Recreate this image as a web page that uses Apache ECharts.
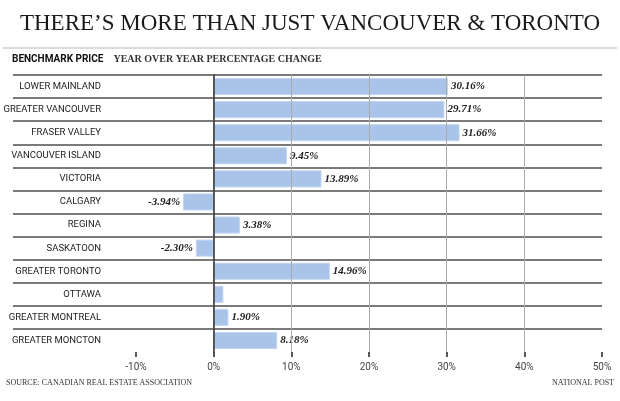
<!DOCTYPE html>
<html><head><meta charset="utf-8">
<script src="https://cdn.jsdelivr.net/npm/echarts@6/dist/echarts.min.js"></script>
<style>html,body{margin:0;padding:0;background:#fff}#c{width:620px;height:401px}</style>
</head><body><div id="c"></div>
<script>
var categories = ['LOWER MAINLAND','GREATER VANCOUVER','FRASER VALLEY','VANCOUVER ISLAND','VICTORIA','CALGARY','REGINA','SASKATOON','GREATER TORONTO','OTTAWA','GREATER MONTREAL','GREATER MONCTON'];
var values = [30.16, 29.71, 31.66, 9.45, 13.89, -3.94, 3.38, -2.30, 14.96, 1.25, 1.90, 8.18];
var valueLabels = ['30.16%','29.71%','31.66%','9.45%','13.89%','-3.94%','3.38%','-2.30%','14.96%','','1.90%','8.18%'];
var xTicks = [-10, 0, 10, 20, 30, 40, 50];

var chart = echarts.init(document.getElementById('c'), null, {renderer: 'canvas'});
var serif = "'Liberation Serif','DejaVu Serif',serif";
var narrow = "Roboto,'Liberation Sans',sans-serif";

var barData = values.map(function (v, i) {
  return {
    value: v,
    label: {show: valueLabels[i] !== '', position: v < 0 ? 'left' : 'right', formatter: valueLabels[i]}
  };
});

chart.setOption({
  animation: false,
  title: [
    {text: 'THERE\u2019S MORE THAN JUST VANCOUVER & TORONTO', left: 'center', top: 12, padding: 0,
     textStyle: {fontFamily: serif, fontSize: 23, fontWeight: 'normal', color: '#1a1a1a'}},
    {text: '{a|BENCHMARK PRICE}  {b|YEAR OVER YEAR PERCENTAGE CHANGE}', left: 12, top: 50, padding: 0,
     textStyle: {rich: {
       a: {fontFamily: narrow, fontSize: 10, fontWeight: 'bold', color: '#111'},
       b: {fontFamily: serif, fontSize: 10, color: '#333'}
     }}},
    {text: 'SOURCE: CANADIAN REAL ESTATE ASSOCIATION', left: 6, top: 379, padding: 0,
     textStyle: {fontFamily: serif, fontSize: 8, fontWeight: 'normal', color: '#333'}},
    {text: 'NATIONAL POST', right: 6, top: 379, padding: 0,
     textStyle: {fontFamily: serif, fontSize: 8, fontWeight: 'normal', color: '#333'}}
  ],
  graphic: [
    {type: 'line', shape: {x1: 3, y1: 48, x2: 617, y2: 48}, style: {stroke: '#cfcfcf', lineWidth: 1.5}}
  ],
  grid: [
    {left: 136, right: 18, top: 75, bottom: 49, containLabel: false, outerBoundsMode: 'none'},
    {left: 13, right: 18, top: 75, bottom: 49, containLabel: false, outerBoundsMode: 'none'}
  ],
  xAxis: [
    {type: 'value', gridIndex: 0, min: -10, max: 50, interval: 10, z: 3,
     axisLine: {show: false},
     axisTick: {show: true, length: 5, lineStyle: {color: '#222', width: 1.5}},
     axisLabel: {margin: 10, fontFamily: "Roboto,'Liberation Sans',sans-serif", fontSize: 10, color: '#444',
                 formatter: function (v) { return xTicks.indexOf(v) >= 0 ? v + '%' : ''; }},
     splitLine: {show: true, showMinLine: false, showMaxLine: false, lineStyle: {color: '#aaaaaa', width: 1}}},
    {type: 'value', gridIndex: 1, min: 0, max: 1, show: false}
  ],
  yAxis: [
    {type: 'category', gridIndex: 0, data: categories, inverse: true, z: 4,
     axisLine: {show: true, onZero: true, lineStyle: {color: '#333', width: 1.5}},
     axisTick: {show: false}, axisLabel: {show: false}, splitLine: {show: false}},
    {type: 'category', gridIndex: 1, data: categories, inverse: true, offset: -88,
     axisLine: {show: false}, axisTick: {show: false},
     axisLabel: {show: true, interval: 0, margin: 0, align: 'right', fontFamily: narrow, fontSize: 9.5, color: '#222'},
     splitLine: {show: true, interval: 0, showMinLine: true, showMaxLine: false, lineStyle: {color: '#7a7a7a', width: 2}}}
  ],
  series: [
    {type: 'bar', xAxisIndex: 0, yAxisIndex: 0, data: barData, barWidth: '74%', z: 2,
     itemStyle: {color: '#a9c4e8', borderColor: '#c3d6ef', borderWidth: 1},
     label: {show: true, distance: 3, fontFamily: serif, fontStyle: 'italic', fontWeight: 'bold', fontSize: 11, color: '#222'}}
  ]
});
</script></body></html>
